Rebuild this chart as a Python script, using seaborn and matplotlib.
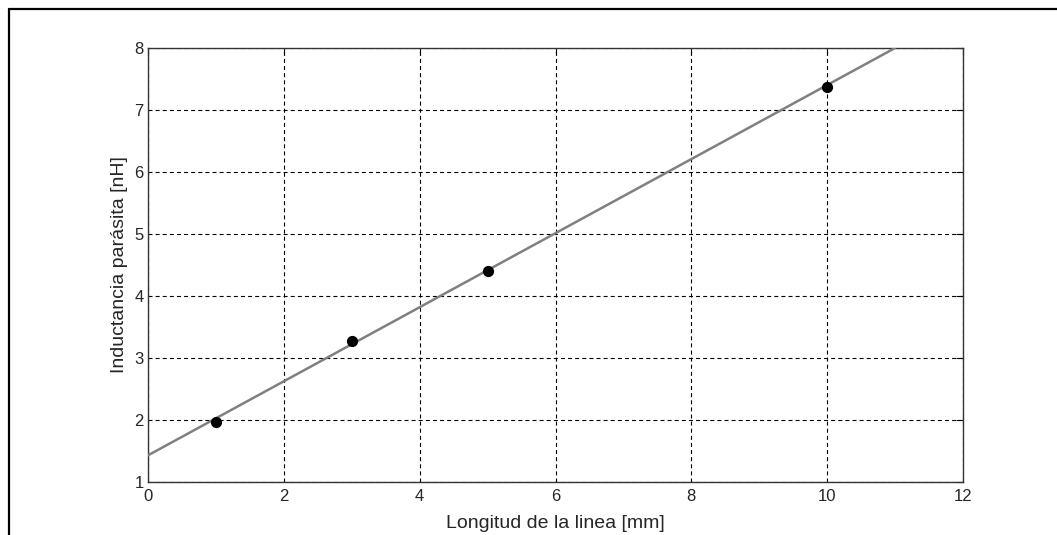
import matplotlib
matplotlib.use("Agg")
import matplotlib.pyplot as plt
from matplotlib.lines import Line2D
import seaborn as sns
import pandas as pd

# Datos medidos
longitud_mm = [1, 3, 5, 10]
inductancia_nH = [1.97, 3.28, 4.40, 7.37]

# Recta de ajuste (extremos)
ajuste_x = [0, 11]
ajuste_y = [1.43, 8.0]

x_ticks = [0, 2, 4, 6, 8, 10, 12]
y_ticks = [1, 2, 3, 4, 5, 6, 7, 8]

sns.set_style("white")
plt.rcParams["font.family"] = ["Liberation Sans", "DejaVu Sans"]

df_puntos = pd.DataFrame({"x": longitud_mm, "y": inductancia_nH})
df_ajuste = pd.DataFrame({"x": ajuste_x, "y": ajuste_y})

fig = plt.figure(figsize=(10.57, 5.35), dpi=100)
ax = fig.add_axes([148 / 1057, 1 - 482 / 535, (963 - 148) / 1057, (482 - 48) / 535])

sns.lineplot(data=df_ajuste, x="x", y="y", ax=ax, color="#808080", linewidth=1.8, zorder=3)
sns.scatterplot(data=df_puntos, x="x", y="y", ax=ax, color="black", s=65,
                edgecolor="black", linewidth=0, zorder=4)

ax.set_xlim(0, 12)
ax.set_ylim(1, 8)
ax.set_xticks(x_ticks)
ax.set_yticks(y_ticks)
ax.tick_params(direction="in", length=5, width=0.8, color="black",
               top=True, right=True, labelsize=12, pad=3)
ax.tick_params(axis="x", pad=5)
ax.grid(True, color="black", linestyle=(0, (3.6, 2.8)), linewidth=0.8)
for s in ax.spines.values():
    s.set_color("#333333")
    s.set_linewidth(1.0)

ax.set_xlabel("Longitud de la linea [mm]", fontsize=14, labelpad=8)
ax.set_ylabel("Inductancia parásita [nH]", fontsize=14, labelpad=5)

# marco exterior
fig.add_artist(Line2D([9 / 1057, 1.0], [1 - 9 / 535, 1 - 9 / 535], color="black", linewidth=1.6))
fig.add_artist(Line2D([9 / 1057, 9 / 1057], [0.0, 1 - 9 / 535], color="black", linewidth=1.6))

fig.savefig("out.png", dpi=100)
